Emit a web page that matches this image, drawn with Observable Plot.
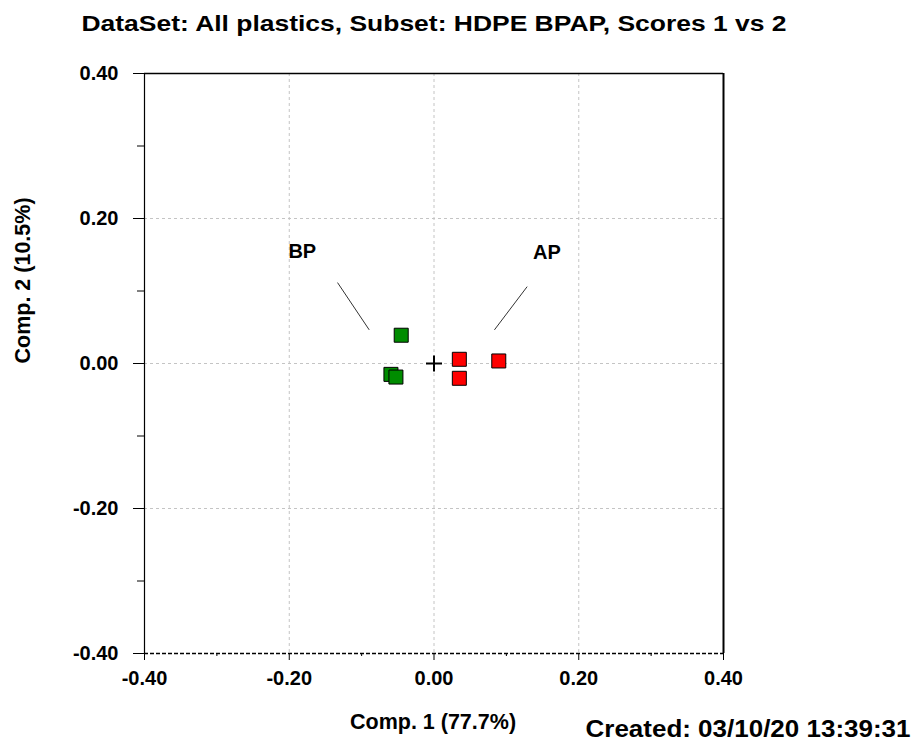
<!DOCTYPE html>
<html>
<head>
<meta charset="utf-8">
<script src="https://cdn.jsdelivr.net/npm/d3@7"></script>
<script src="https://cdn.jsdelivr.net/npm/@observablehq/plot@0.6"></script>
<style>
  html, body { margin: 0; padding: 0; background: #fff; }
  #chart svg { display: block; }
</style>
</head>
<body>
<div id="chart"></div>
<script>
// ---- data ----
const titleText = "DataSet: All plastics, Subset: HDPE BPAP, Scores 1 vs 2";
const xLabel = "Comp. 1 (77.7%)";
const yLabel = "Comp. 2 (10.5%)";
const createdText = "Created: 03/10/20 13:39:31";

const groups = ["BP", "BP", "BP", "AP", "AP", "AP"];
const comp1 = [-0.0453, -0.0595, -0.0526, 0.0350, 0.0350, 0.0895];
const comp2 = [0.0390, -0.0150, -0.0187, 0.0058, -0.0204, 0.0035];

const groupDomain = ["BP", "AP"];
const groupColors = ["#008c00", "#ff0000"];

const labelNames = ["BP", "AP"];
const labelX = [-0.182, 0.156];
const labelY = [0.154, 0.153];
const leaderX1 = [-0.1333, 0.1287];
const leaderY1 = [0.1116, 0.1060];
const leaderX2 = [-0.0895, 0.0835];
const leaderY2 = [0.0464, 0.0464];

const majorTicks = [-0.4, -0.2, 0, 0.2, 0.4];
const minorTicks = [-0.3, -0.1, 0.1, 0.3];
const gridTicks = [-0.2, 0, 0.2];
const origin = [[0, 0]];

// ---- tables built from the arrays ----
const points = groups.map((g, i) => ({group: g, x: comp1[i], y: comp2[i]}));
const labels = labelNames.map((n, i) => ({name: n, x: labelX[i], y: labelY[i]}));
const leaders = labelNames.map((n, i) => ({x1: leaderX1[i], y1: leaderY1[i], x2: leaderX2[i], y2: leaderY2[i]}));

const plusSymbol = {
  draw(context, size) {
    const r = Math.sqrt(size / Math.PI);
    context.moveTo(-r, 0); context.lineTo(r, 0);
    context.moveTo(0, -r); context.lineTo(0, r);
  }
};

const fmt = d => (Math.abs(d) < 1e-9 ? 0 : d).toFixed(2);
const font = "'Liberation Sans', Arial, sans-serif";

const chart = Plot.plot({
  width: 923,
  height: 744,
  marginLeft: 144,
  marginRight: 200,
  marginTop: 73,
  marginBottom: 91,
  style: {fontFamily: font, fontWeight: "bold", background: "#fff", color: "#000", overflow: "visible"},
  x: {domain: [-0.4, 0.4], axis: null},
  y: {domain: [-0.4, 0.4], axis: null},
  color: {domain: groupDomain, range: groupColors},
  marks: [
    // grid
    Plot.ruleX(gridTicks, {stroke: "#c4c4c4", strokeDasharray: "3,3", strokeWidth: 1}),
    Plot.ruleY(gridTicks, {stroke: "#c4c4c4", strokeDasharray: "3,3", strokeWidth: 1}),
    // frame
    Plot.ruleX([-0.4], {stroke: "#000", strokeWidth: 1.2}),
    Plot.ruleX([0.4], {stroke: "#000", strokeWidth: 2}),
    Plot.ruleY([0.4], {stroke: "#000", strokeWidth: 1.5}),
    Plot.ruleY([-0.4], {stroke: "#000", strokeWidth: 1.5, strokeDasharray: "4,2"}),
    // axes
    Plot.axisY(majorTicks, {anchor: "left", tickSize: 11, tickPadding: 15, tickFormat: fmt, fontSize: 20, fontWeight: "bold", label: null}),
    Plot.axisY(minorTicks, {anchor: "left", tickSize: 7, tickFormat: () => "", label: null}),
    Plot.axisX(majorTicks, {anchor: "bottom", tickSize: 7, tickPadding: 10, tickFormat: fmt, fontSize: 20, fontWeight: "bold", label: null}),
    Plot.axisX(minorTicks, {anchor: "bottom", tickSize: 3, tickFormat: () => "", label: null}),
    // leader lines and group labels
    Plot.link(leaders, {x1: "x1", y1: "y1", x2: "x2", y2: "y2", stroke: "#333", strokeWidth: 1}),
    Plot.text(labels, {x: "x", y: "y", text: "name", fontSize: 20, fontWeight: "bold", fill: "#000"}),
    // origin cross
    Plot.dot(origin, {x: d => d[0], y: d => d[1], symbol: plusSymbol, r: 8, stroke: "#000", strokeWidth: 2, fill: "none"}),
    // scores
    Plot.dot(points, {x: "x", y: "y", symbol: "square", r: 7.9, fill: "group", stroke: "#000", strokeWidth: 1}),
    // texts
    Plot.text([titleText], {text: d => d, frameAnchor: "top", lineAnchor: "middle", dy: -49, fontSize: 21.5, fontWeight: "bold", fill: "#000", className: "title-text"}),
    Plot.text([xLabel], {text: d => d, frameAnchor: "bottom", lineAnchor: "middle", dy: 69, dx: -1, fontSize: 21.5, fontWeight: "bold", fill: "#000"}),
    Plot.text([yLabel], {text: d => d, frameAnchor: "left", lineAnchor: "middle", rotate: -90, dx: -121, fontSize: 21.5, fontWeight: "bold", fill: "#000"}),
    Plot.text([createdText], {text: d => d, frameAnchor: "bottom-right", textAnchor: "end", lineAnchor: "middle", dx: 187, dy: 76, fontSize: 23, fontWeight: "bold", fill: "#000", className: "created-text"})
  ]
});

d3.select(chart).select(".title-text text").attr("textLength", 705).attr("lengthAdjust", "spacingAndGlyphs");
d3.select(chart).select(".created-text text").attr("textLength", 325).attr("lengthAdjust", "spacingAndGlyphs");

document.getElementById("chart").appendChild(chart);
</script>
</body>
</html>
